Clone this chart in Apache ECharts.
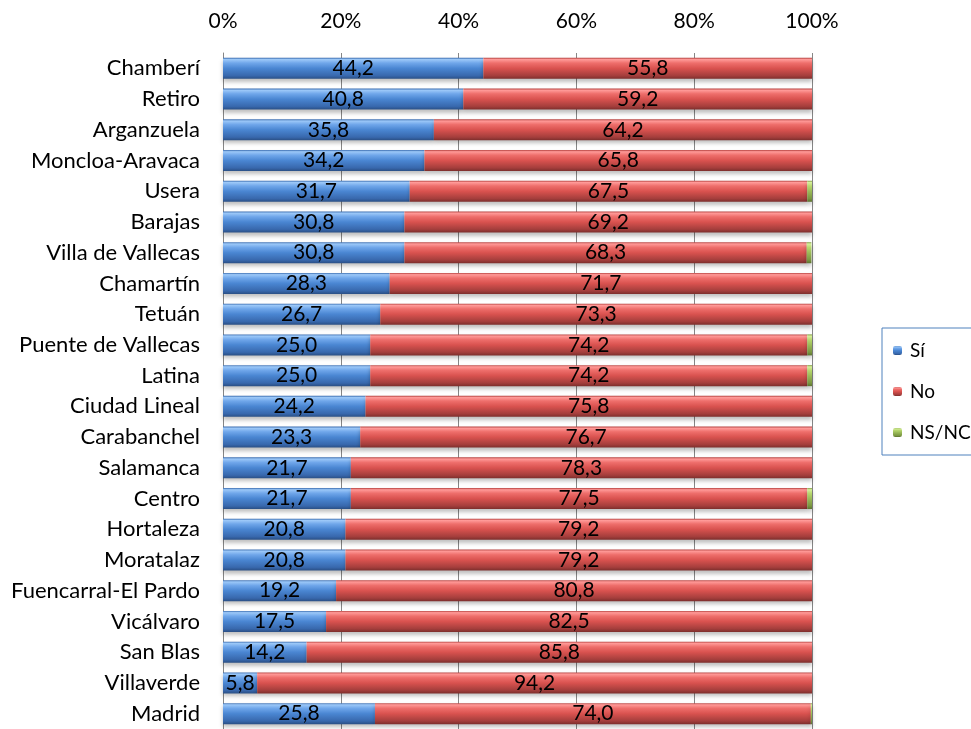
<!DOCTYPE html>
<html>
<head>
<meta charset="utf-8">
<script src="https://cdn.jsdelivr.net/npm/echarts@6/dist/echarts.min.js"></script>
<style>html,body{margin:0;padding:0;background:#fff}#c{width:971px;height:729px}</style>
</head>
<body>
<div id="c"></div>
<script>
const categories = ["Chamberí","Retiro","Arganzuela","Moncloa-Aravaca","Usera","Barajas","Villa de Vallecas","Chamartín","Tetuán","Puente de Vallecas","Latina","Ciudad Lineal","Carabanchel","Salamanca","Centro","Hortaleza","Moratalaz","Fuencarral-El Pardo","Vicálvaro","San Blas","Villaverde","Madrid"];
const si   = [44.2,40.8,35.8,34.2,31.7,30.8,30.8,28.3,26.7,25.0,25.0,24.2,23.3,21.7,21.7,20.8,20.8,19.2,17.5,14.2,5.8,25.8];
const no   = [55.8,59.2,64.2,65.8,67.5,69.2,68.3,71.7,73.3,74.2,74.2,75.8,76.7,78.3,77.5,79.2,79.2,80.8,82.5,85.8,94.2,74.0];
const nsnc = [0,0,0,0,0.8,0,0.8,0,0,0.8,0.8,0,0,0,0.8,0,0,0,0,0,0,0.2];
const seriesNames = ["Sí","No","NS/NC"];
const xTicks = [0,20,40,60,80,100];

const FONT = 'Lato';
function grad(stops){
  return new echarts.graphic.LinearGradient(0,0,0,1, stops.map(s=>({offset:s[0],color:s[1]})));
}
const fills = [
  grad([[0,'#3b6db0'],[0.08,'#9cc8f8'],[0.25,'#6fa6ea'],[0.5,'#4a86d2'],[0.85,'#3868ad'],[1,'#2a4f85']]),
  grad([[0,'#b64240'],[0.08,'#ff9a98'],[0.25,'#ee6e6b'],[0.5,'#d9524f'],[0.85,'#a43e3c'],[1,'#7d2e2c']]),
  grad([[0,'#7d9a3c'],[0.08,'#d6ef9c'],[0.25,'#b7d86e'],[0.5,'#9bbb59'],[0.85,'#7a9641'],[1,'#5c7230']])
];
const values = [si, no, nsnc];

const chart = echarts.init(document.getElementById('c'), null, {renderer:'canvas'});
chart.setOption({
  animation:false,
  grid:{left:223, top:53, width:589, height:682, containLabel:false},
  legend:{
    orient:'vertical', left:882, top:328,
    data:seriesNames,
    itemWidth:9, itemHeight:9, itemGap:22,
    borderColor:'#4f81bd', borderWidth:1,
    padding:[13,60,13,11],
    textStyle:{fontFamily:FONT, fontSize:19, color:'#000', padding:[0,0,0,3]}
  },
  xAxis:{
    type:'value', position:'top', min:0, max:100, interval:20,
    axisLine:{show:false}, axisTick:{show:false},
    splitLine:{lineStyle:{color:'#868686', width:1}},
    axisLabel:{formatter:'{value}%', fontFamily:FONT, fontSize:21, color:'#000', margin:21}
  },
  yAxis:{
    type:'category', inverse:true, data:categories,
    axisLine:{lineStyle:{color:'#868686'}}, axisTick:{show:false},
    axisLabel:{fontFamily:FONT, fontSize:22, color:'#000', margin:23}
  },
  series: seriesNames.map((n,i)=>({
    name:n, type:'bar', stack:'total', barWidth:21,
    data: values[i],
    itemStyle:{color:fills[i], shadowColor:'rgba(0,0,0,0.25)', shadowBlur:4, shadowOffsetY:3},
    label:{
      show: i<2, position:'inside', color:'#000', fontFamily:FONT, fontSize:21,
      formatter:p=> p.value>0 ? p.value.toFixed(1).replace('.',',') : ''
    }
  }))
});
</script>
</body>
</html>
